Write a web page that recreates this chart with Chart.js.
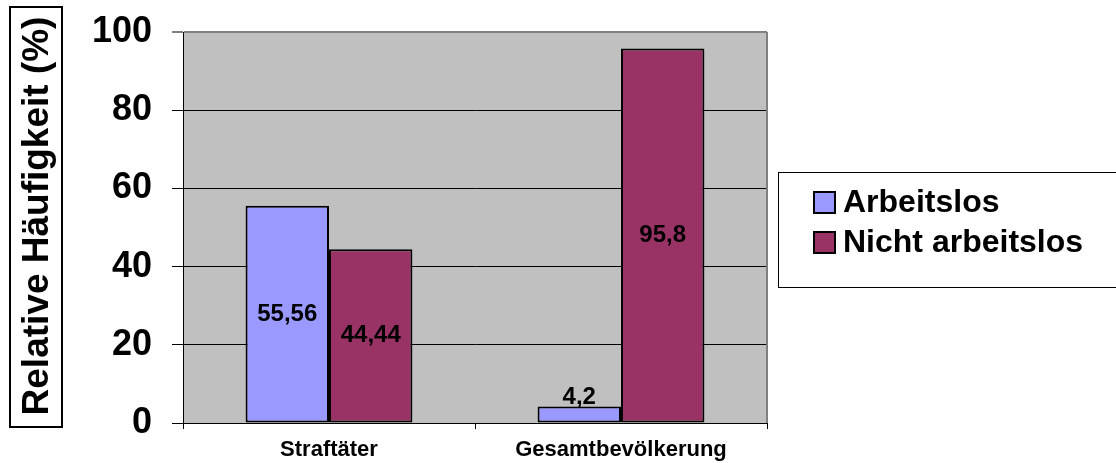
<!DOCTYPE html>
<html lang="de">
<head>
<meta charset="utf-8">
<title>Arbeitslosigkeit: Straftäter und Gesamtbevölkerung</title>
<script src="https://cdn.jsdelivr.net/npm/chart.js@4/dist/chart.umd.min.js"></script>
<style>
  html, body { margin: 0; padding: 0; background: #ffffff; }
  #wrap { width: 1116px; height: 463px; position: relative; }
</style>
</head>
<body>
<div id="wrap"><canvas id="chart" width="1116" height="463"></canvas></div>
<script>
// Kategorien und Werte (relative Häufigkeit in %)
const categories = ['Straftäter', 'Gesamtbevölkerung'];
const seriesNames = ['Arbeitslos', 'Nicht arbeitslos'];
const arbeitslos = [55.56, 4.2];
const nichtArbeitslos = [44.44, 95.8];
const yTicks = [0, 20, 40, 60, 80, 100];
const yTitle = 'Relative Häufigkeit (%)';

const FONT = '"Liberation Sans", Arial, Helvetica, sans-serif';
const seriesColors = ['#9999FF', '#993366'];

const fmt = v => String(v).replace('.', ',');

// Grauer Hintergrund des Diagrammbereichs und rechter Rand
const plotArea = {
  id: 'plotArea',
  beforeDraw(chart) {
    const { ctx, chartArea: a } = chart;
    ctx.save();
    ctx.fillStyle = '#C0C0C0';
    ctx.fillRect(a.left, a.top, a.right - a.left, a.bottom - a.top);
    ctx.restore();
  },
  afterDraw(chart) {
    const { ctx, chartArea: a } = chart;
    ctx.save();
    ctx.strokeStyle = '#808080';
    ctx.lineWidth = 2;
    ctx.beginPath();
    ctx.moveTo(a.right, a.top);
    ctx.lineTo(a.right, a.bottom);
    ctx.stroke();
    ctx.restore();
  }
};

// Werte in den Balken
const valueLabels = {
  id: 'valueLabels',
  afterDatasetsDraw(chart) {
    const { ctx } = chart;
    ctx.save();
    ctx.font = 'bold 24px ' + FONT;
    ctx.fillStyle = '#000';
    ctx.textAlign = 'center';
    ctx.textBaseline = 'middle';
    chart.data.datasets.forEach((ds, i) => {
      chart.getDatasetMeta(i).data.forEach((bar, j) => {
        const top = bar.y, bottom = bar.base;
        let y = (top + bottom) / 2;
        if (bottom - top < 30) y = top - 9;
        ctx.fillText(fmt(ds.data[j]), bar.x, y);
      });
    });
    ctx.restore();
  }
};

// Achsentitel im Rahmen
const axisTitleBox = {
  id: 'axisTitleBox',
  afterDraw(chart) {
    const { ctx } = chart;
    ctx.save();
    ctx.strokeStyle = '#000';
    ctx.lineWidth = 2;
    ctx.strokeRect(10, 7, 52, 420);
    ctx.translate(37, 216);
    ctx.rotate(-Math.PI / 2);
    ctx.font = 'bold 37px ' + FONT;
    ctx.fillStyle = '#000';
    ctx.textAlign = 'center';
    ctx.textBaseline = 'middle';
    ctx.fillText(yTitle, 0, 1);
    ctx.restore();
  }
};

// Legende rechts
const legendBox = {
  id: 'legendBox',
  afterDraw(chart) {
    const { ctx } = chart;
    ctx.save();
    ctx.strokeStyle = '#000';
    ctx.lineWidth = 1;
    ctx.strokeRect(778.5, 172.5, 400, 115);
    ctx.font = 'bold 32px ' + FONT;
    ctx.textBaseline = 'middle';
    ctx.textAlign = 'left';
    chart.data.datasets.forEach((ds, i) => {
      const cy = 202 + i * 40;
      ctx.fillStyle = ds.backgroundColor;
      ctx.fillRect(814, cy - 10, 21, 21);
      ctx.lineWidth = 2;
      ctx.strokeStyle = '#000';
      ctx.strokeRect(814, cy - 10, 21, 21);
      ctx.fillStyle = '#000';
      ctx.fillText(ds.label, 843, cy + 1);
    });
    ctx.restore();
  }
};

new Chart(document.getElementById('chart'), {
  type: 'bar',
  data: {
    labels: categories,
    datasets: [
      { label: seriesNames[0], data: arbeitslos, backgroundColor: seriesColors[0] },
      { label: seriesNames[1], data: nichtArbeitslos, backgroundColor: seriesColors[1] }
    ].map(d => Object.assign(d, {
      borderColor: '#000',
      borderWidth: 2,
      borderSkipped: false,
      categoryPercentage: 2 / 3.5,
      barPercentage: 1
    }))
  },
  options: {
    responsive: false,
    animation: false,
    layout: { padding: { left: 0, top: 32, right: 349, bottom: 0 } },
    plugins: {
      legend: { display: false },
      tooltip: { enabled: false },
      title: { display: false }
    },
    scales: {
      x: {
        afterFit(scale) {
          scale.height = 40;
          scale.paddingLeft = 0;
          scale.paddingRight = 0;
        },
        grid: {
          offset: true,
          drawOnChartArea: false,
          drawTicks: true,
          tickLength: 6,
          tickColor: '#000',
          color: '#000'
        },
        border: { display: true, color: '#000', width: 1 },
        ticks: {
          color: '#000',
          padding: 8,
          font: { family: FONT, size: 22, weight: 'bold' },
          maxRotation: 0
        }
      },
      y: {
        min: 0,
        max: 100,
        afterFit(scale) {
          scale.width = 183;
          scale.paddingTop = 0;
          scale.paddingBottom = 0;
        },
        afterBuildTicks(scale) { scale.ticks = yTicks.map(v => ({ value: v })); },
        grid: {
          color: ctx => (ctx.tick && ctx.tick.value === 100 ? '#808080' : '#000'),
          lineWidth: ctx => (ctx.tick && ctx.tick.value === 100 ? 2 : 1),
          tickColor: '#000',
          tickWidth: 1,
          tickLength: 11
        },
        border: { display: true, color: '#000', width: 1 },
        ticks: {
          color: '#000',
          padding: 20,
          font: { family: FONT, size: 36, weight: 'bold' }
        }
      }
    }
  },
  plugins: [plotArea, valueLabels, axisTitleBox, legendBox]
});
</script>
</body>
</html>
